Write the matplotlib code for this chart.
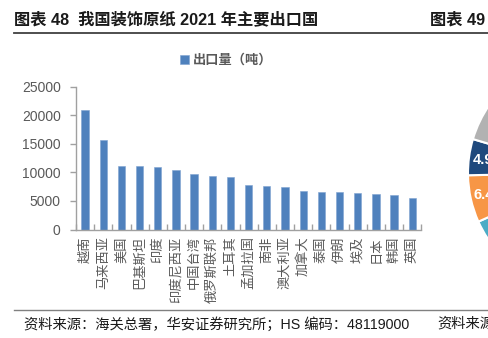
import matplotlib
matplotlib.use("Agg")
import matplotlib.pyplot as plt
from matplotlib.lines import Line2D
import numpy as np

plt.rcParams['font.family'] = ['Liberation Sans', 'Noto Sans CJK SC', 'DejaVu Sans']

# ---- data ----
countries = ["越南", "马来西亚", "美国", "巴基斯坦", "印度", "印度尼西亚", "中国台湾",
             "俄罗斯联邦", "土耳其", "孟加拉国", "南非", "澳大利亚", "加拿大", "泰国",
             "伊朗", "埃及", "日本", "韩国", "英国"]
export_tons = [20950, 15700, 11200, 11050, 10900, 10380, 9740, 9440, 9210, 7750,
               7570, 7400, 6700, 6580, 6520, 6400, 6230, 6060, 5590]
yticks = [0, 5000, 10000, 15000, 20000, 25000]
series_name = "出口量（吨）"

# partially visible pie of the neighbouring chart (clockwise from top)
pie_values = [38.0, 20.0, 10.3, 6.4, 4.9, 20.4]
pie_colors = ["#9BBB59", "#8064A2", "#4BACC6", "#F79646", "#1F497D", "#B2B2B2"]

W, H = 489, 338
fig = plt.figure(figsize=(W / 100, H / 100), dpi=100)

def fx(px):
    return px / W

def fy(py):
    return 1 - py / H

# ---- bar chart ----
ax = fig.add_axes([fx(76), fy(229.5), fx(421.3 - 76), (229.5 - 86.7) / H])
x = np.arange(len(countries))
ax.bar(x, export_tons, width=0.4, color="#4F81BD", edgecolor="#7FA3D1",
       linewidth=0.4, label=series_name, zorder=2)
ax.set_xlim(-0.5, len(countries) - 0.5)
ax.set_ylim(0, 25000)
ax.set_yticks(yticks)
ax.set_yticklabels([str(v) for v in yticks], fontsize=10, color="#595959")
ax.set_xticks(x)
ax.set_xticklabels(countries, rotation=90, fontsize=9.5, color="#595959",
                   family=['Noto Sans CJK SC', 'DejaVu Sans'])
ax.tick_params(axis='x', which='major', length=0, pad=5)
ax.set_xticks(np.arange(-0.5, len(countries), 1.0), minor=True)
ax.tick_params(axis='x', which='minor', length=4.5, direction='in', color="#A0A0A0", width=1)
ax.tick_params(axis='y', length=4, direction='out', color="#A0A0A0", width=1, pad=7)
for s in ['top', 'right']:
    ax.spines[s].set_visible(False)
for s in ['left', 'bottom']:
    ax.spines[s].set_color("#A0A0A0")
    ax.spines[s].set_linewidth(1)

leg = ax.legend(loc='upper left', frameon=False, handlelength=0.7, handleheight=0.7,
                handletextpad=0.3, borderaxespad=0, borderpad=0,
                prop={'family': ['Noto Sans CJK SC', 'DejaVu Sans'], 'size': 9.5, 'weight': 'bold'})
for t in leg.get_texts():
    t.set_color("#595959")
leg.set_bbox_to_anchor((fx(180), fy(53)), transform=fig.transFigure)

# ---- partial pie (chart 49, cut off at the right edge) ----
cx, cy, r = 587, 173, 119
pax = fig.add_axes([fx(cx - r), fy(cy + r), 2 * r / W, 2 * r / H])
pax.pie(pie_values, colors=pie_colors, startangle=90, counterclock=False,
        autopct=lambda p: f"{p:.1f}%", pctdistance=0.83,
        wedgeprops=dict(edgecolor='white', linewidth=1.5),
        textprops=dict(color='white', fontsize=10.5, weight='bold'))
pax.set_xlim(-1, 1)
pax.set_ylim(-1, 1)
pax.set_aspect('auto')
pax.axis('off')

# ---- titles, rules, source ----
fig.text(fx(14), fy(19.5), "图表 48  我国装饰原纸 2021 年主要出口国", fontsize=11.7,
         weight='bold', va='center', ha='left', color="#1A1A1A")
fig.text(fx(430), fy(19.5), "图表 49", fontsize=11.7, weight='bold', va='center', ha='left',
         color="#1A1A1A")
fig.add_artist(Line2D([fx(14), 1.0], [fy(32.7), fy(32.7)], color="#404040", linewidth=1.3))
fig.add_artist(Line2D([fx(14), 1.0], [fy(310), fy(310)], color="#808080", linewidth=1.0))
fig.text(fx(24), fy(324), "资料来源：海关总署，华安证券研究所；HS 编码：48119000", fontsize=10.3,
         va='center', ha='left', color="#1A1A1A")
fig.text(fx(437), fy(324), "资料来源：", fontsize=10.3, va='center', ha='left', color="#1A1A1A")

fig.savefig("out.png", dpi=100)
